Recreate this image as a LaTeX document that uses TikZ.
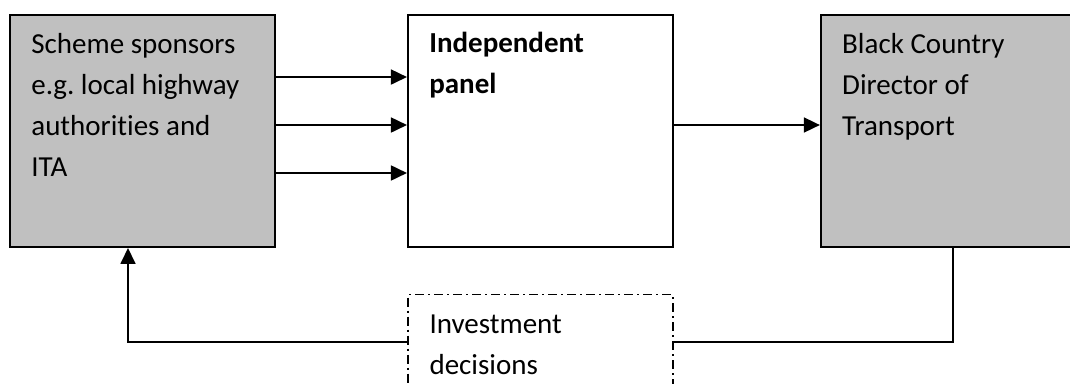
\documentclass[tikz,border=0pt]{standalone}
\usepackage{fontspec}
\setmainfont{Carlito}[Ligatures=NoCommon]
\usetikzlibrary{positioning,arrows.meta}

\definecolor{boxgray}{RGB}{192,192,192}
\frenchspacing

\begin{document}
\begin{tikzpicture}[x=0.02cm, y=-0.02cm,
    box/.style={draw, line width=0.04cm, minimum width=5.3cm, minimum height=4.64cm, inner sep=0pt},
    lbl/.style={anchor=base west, align=left, inner sep=0pt, font=\fontsize{16.5}{23.3}\selectfont},
    arr/.style={line width=0.035cm, -{Triangle[length=0.32cm,width=0.3cm]}},
    link/.style={line width=0.035cm}]
    \useasboundingbox (0,0) rectangle (1070,383);
    % ---- Boxes ----
    \node[box, fill=boxgray] (spons) at (142.5,131) {};
    \node[box, right=2.62cm of spons] (panel) {};
    \node[box, fill=boxgray, right=2.92cm of panel] (dir) {};
    \node[box, minimum height=1.88cm, line width=0.03cm,
          dash pattern=on 0.18cm off 0.08cm on 0.04cm off 0.08cm,
          below=0.92cm of panel] (dec) {};
    % ---- Texts (anchored at the last line) ----
    \node[lbl] (spons-t) at ([xshift=0.44cm,yshift=-3.246cm]spons.north west)
      {Scheme sponsors\\e.g. local highway\\authorities and\\ITA};
    \node[lbl, font=\fontsize{16.5}{23.3}\selectfont\bfseries] (panel-t)
      at ([xshift=0.44cm,yshift=-1.582cm]panel.north west) {Independent\\panel};
    \node[lbl] (dir-t) at ([xshift=0.44cm,yshift=-2.424cm]dir.north west)
      {Black Country\\Director of\\Transport};
    \node[lbl] (dec-t) at ([xshift=0.44cm,yshift=-1.602cm]dec.north west)
      {Investment\\decisions};
    % ---- Arrows ----
    \foreach \dy in {1.26,2.22,3.18}
      \draw[arr] ([yshift=-\dy cm]spons.north east) -- ([yshift=-\dy cm]panel.north west);
    \draw[arr] ([yshift=-2.22cm]panel.north east) -- ([yshift=-2.22cm]dir.north west);
    \draw[link] (dir.south) |- (dec.east);
    \draw[arr] (dec.west) -| ([xshift=-0.29cm]spons.south);
\end{tikzpicture}
\end{document}
